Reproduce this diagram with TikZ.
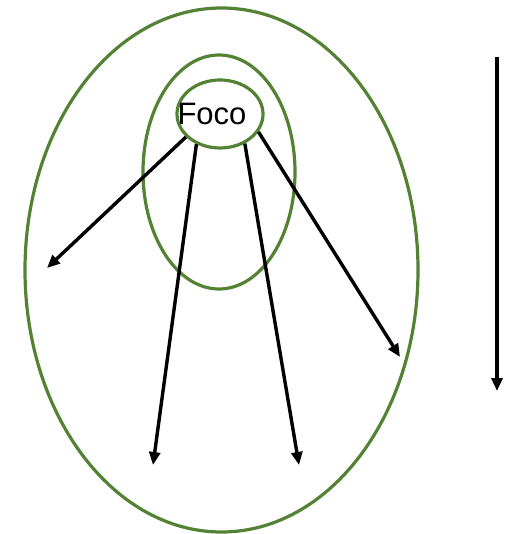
\documentclass[tikz,border=0pt]{standalone}
\usepackage{fontspec}
\setmainfont{Liberation Sans}
\usepackage{xcolor}
\definecolor{focogreen}{RGB}{84,130,53}
\usepackage{tikz}
\usetikzlibrary{
  arrows.meta,
  positioning,
  shapes.geometric
}
\tikzset{
  ring/.style={draw=focogreen, line width=3.2pt},
  focobox/.style={ellipse, draw=focogreen, line width=3.2pt,
    minimum width=86pt, minimum height=68pt, inner sep=0pt},
  focotext/.style={inner sep=0pt, font=\fontsize{31}{32}\selectfont},
  ray/.style={-{Triangle[length=13pt,width=11pt]}, line width=3.4pt},
}

\begin{document}
\begin{tikzpicture}[x=1pt,y=-1pt]
  \useasboundingbox (0,0) rectangle (510,534);

  % outer rings
  \draw[ring] (221.5,270) ellipse [x radius=196.5pt, y radius=262pt];
  \draw[ring] (219,172) ellipse [x radius=76pt, y radius=117pt];

  % focus
  \node[focobox] (foco) at (220,114) {};
  \node[focotext] (lbl) at (212,114) {Foco};

  % ray ends
  \coordinate (e1) at (47,268);
  \coordinate (e2) at (153,465);
  \coordinate (e3) at (299,465);
  \coordinate (e4) at (400,357);

  \draw[ray] (foco.-146) -- (e1);
  \draw[ray] (foco.-128) -- (e2);
  \draw[ray] (foco.-50) -- (e3);
  \draw[ray] (foco.-25) -- (e4);

  % direction arrow
  \coordinate (top) at (497,57);
  \coordinate (bot) at (497,391);
  \draw[ray] (top) -- (bot);
\end{tikzpicture}
\end{document}
